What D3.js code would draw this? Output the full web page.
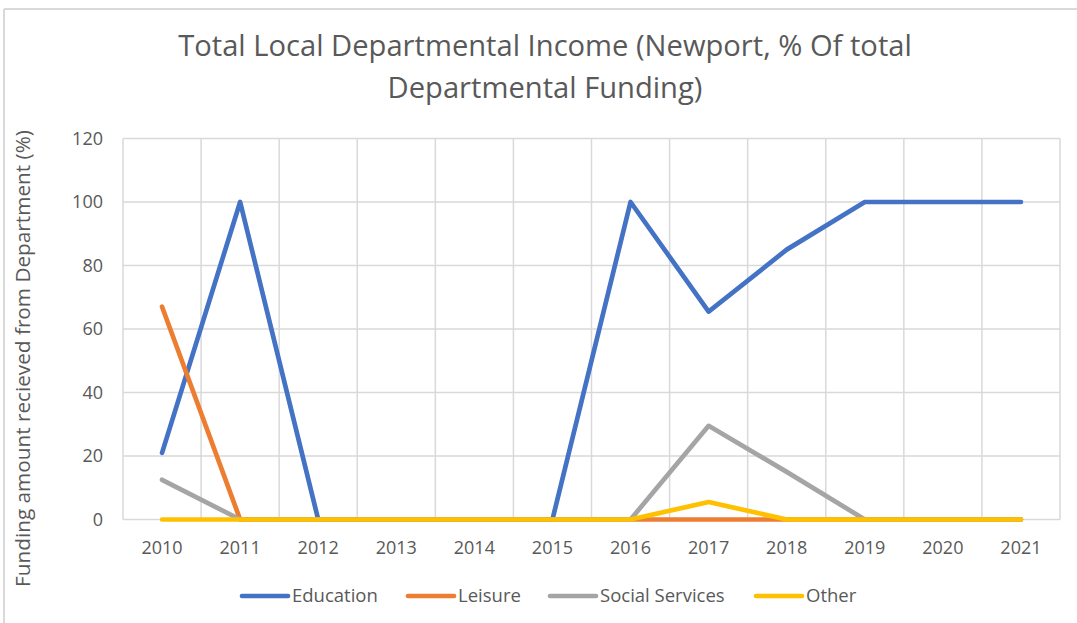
<!DOCTYPE html>
<html>
<head>
<meta charset="utf-8">
<script src="https://cdn.jsdelivr.net/npm/d3@7"></script>
<style>
  html, body { margin: 0; padding: 0; background: #fff; }
  svg { display: block; }
  text { font-family: "Open Sans", sans-serif; fill: #595959; }
</style>
</head>
<body>
<svg id="chart" width="1077" height="623"></svg>
<script>
const years = ["2010","2011","2012","2013","2014","2015","2016","2017","2018","2019","2020","2021"];
const education = [21, 100, 0, 0, 0, 0, 100, 65.5, 85, 100, 100, 100];
const leisure   = [67, 0, 0, 0, 0, 0, 0, 0, 0, 0, 0, 0];
const social    = [12.5, 0, 0, 0, 0, 0, 0, 29.5, 15, 0, 0, 0];
const other     = [0, 0, 0, 0, 0, 0, 0, 5.5, 0, 0, 0, 0];
const yTicks = [0, 20, 40, 60, 80, 100, 120];
const seriesNames = ["Education", "Leisure", "Social Services", "Other"];
const seriesValues = [education, leisure, social, other];
const colors = ["#4472C4", "#ED7D31", "#A5A5A5", "#FFC000"];

const svg = d3.select("#chart");

// chart frame (top and left edges visible)
svg.append("line").attr("x1", 4).attr("x2", 1077).attr("y1", 9).attr("y2", 9)
  .attr("stroke", "#d9d9d9").attr("stroke-width", 2);
svg.append("line").attr("x1", 4).attr("x2", 4).attr("y1", 9).attr("y2", 623)
  .attr("stroke", "#d9d9d9").attr("stroke-width", 2);

const x = d3.scaleBand().domain(years).range([123, 1060]).padding(0);
const y = d3.scaleLinear().domain([0, 120]).range([519.5, 138.5]);
const cx = d => x(d) + x.bandwidth() / 2;

// gridlines
const grid = svg.append("g");
grid.selectAll("line.h").data(yTicks).join("line")
  .attr("x1", 123).attr("x2", 1060)
  .attr("y1", d => y(d)).attr("y2", d => y(d))
  .attr("stroke", "#d9d9d9").attr("stroke-width", 1.5);
const vb = years.map(d => x(d)).concat([x.range()[1]]);
grid.selectAll("line.v").data(vb).join("line")
  .attr("x1", d => d).attr("x2", d => d)
  .attr("y1", y(120)).attr("y2", y(0))
  .attr("stroke", "#d9d9d9").attr("stroke-width", 1.5);

// y tick labels
svg.append("g").selectAll("text").data(yTicks).join("text")
  .attr("x", 103).attr("y", d => y(d)).attr("dy", "0.35em")
  .attr("text-anchor", "end").attr("font-size", 18)
  .text(d => d);

// x tick labels
svg.append("g").selectAll("text").data(years).join("text")
  .attr("x", d => cx(d)).attr("y", 554)
  .attr("text-anchor", "middle").attr("font-size", 18)
  .text(d => d);

// lines
const line = d3.line().x((d, i) => cx(years[i])).y(d => y(d));
svg.append("g").selectAll("path").data(seriesValues).join("path")
  .attr("d", d => line(d))
  .attr("fill", "none")
  .attr("stroke", (d, i) => colors[i])
  .attr("stroke-width", 4.7)
  .attr("stroke-linecap", "round")
  .attr("stroke-linejoin", "round");

function fit(sel, target) {
  const fs = parseFloat(sel.attr("font-size"));
  const w = sel.node().getComputedTextLength();
  if (w > 0) sel.attr("font-size", fs * target / w);
}

// title
const t1 = svg.append("text").attr("x", 545).attr("y", 56).attr("text-anchor", "middle")
  .attr("font-size", 26).text("Total Local Departmental Income (Newport, % Of total");
fit(t1, 734);
svg.append("text").attr("x", 545).attr("y", 98).attr("text-anchor", "middle")
  .attr("font-size", t1.attr("font-size")).text("Departmental Funding)");

// y axis title
const yt = svg.append("text")
  .attr("transform", "translate(30,358.5) rotate(-90)")
  .attr("text-anchor", "middle").attr("font-size", 18)
  .text("Funding amount recieved from Department (%)");
fit(yt, 457);

// legend
const legendX = [240, 406, 548, 754];
const lg = svg.append("g").selectAll("g").data(seriesNames).join("g")
  .attr("transform", (d, i) => `translate(${legendX[i]},596)`);
lg.append("line").attr("x1", 2).attr("x2", 48).attr("y1", 0).attr("y2", 0)
  .attr("stroke", (d, i) => colors[i]).attr("stroke-width", 4.7).attr("stroke-linecap", "round");
lg.append("text").attr("x", 52).attr("y", 0).attr("dy", "0.35em")
  .attr("font-size", 18.5).text(d => d);
</script>
</body>
</html>
